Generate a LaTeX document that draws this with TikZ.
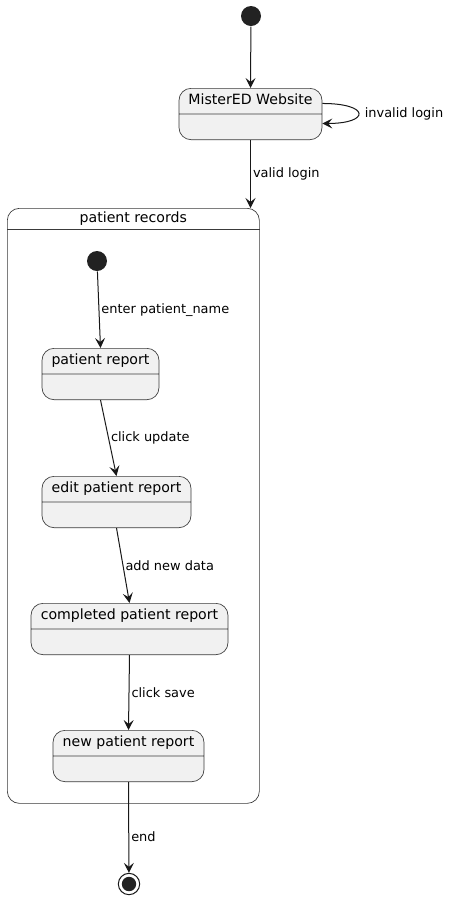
\documentclass[tikz,border=0pt]{standalone}
\usepackage{fontspec}
\setmainfont{DejaVu Sans}
\usetikzlibrary{arrows.meta,shapes.multipart}
\definecolor{statefill}{HTML}{F1F1F1}
\definecolor{stateline}{HTML}{181818}
\definecolor{boxline}{HTML}{3A3A3A}
\definecolor{dotfill}{HTML}{222222}
\newcommand{\statefont}{\fontsize{10.6}{12}\selectfont}
\newcommand{\lblfont}{\fontsize{9.7}{12}\selectfont}

\begin{document}
\begin{tikzpicture}[x=0.75pt,y=-0.75pt,line width=0.75pt,>={Stealth[length=7.5pt,width=7.5pt,inset=3pt]},
  statebox/.style={rectangle split,rectangle split parts=2,draw=boxline,line width=0.5pt,fill=statefill,
    rounded corners=9pt,anchor=north,font=\statefont\strut,inner ysep=3.375pt,inner xsep=4pt,
    rectangle split empty part height=11.25pt,rectangle split empty part depth=0pt},
  startstate/.style={circle,fill=dotfill,minimum size=15pt,inner sep=0pt},
  endstate/.style={circle,draw=stateline,line width=0.75pt,minimum size=16pt,inner sep=0pt,
    path picture={\fill[dotfill] (path picture bounding box.center) circle(5.4pt);}},
  lbl/.style={right,font=\lblfont,inner sep=1.5pt,text=black},
  trans/.style={->,draw=stateline}]
  \useasboundingbox[fill=white] (0,0) rectangle (454,901);
  % estado compuesto
  \node[draw=boxline,line width=0.5pt,fill=white,rounded corners=9pt,anchor=north west,
    minimum width=252*0.75pt,minimum height=595*0.75pt,inner sep=0pt] (rec) at (7,208) {};
  \draw[boxline,line width=0.45pt] ([yshift=-15.75pt]rec.north west) -- ([yshift=-15.75pt]rec.north east);
  \node[font=\statefont] (rectitle) at ([yshift=-7.9pt]rec.north) {patient records};
  % estados
  \node[startstate] (ini) at (251,16) {};
  \node[statebox,minimum width=143*0.75pt] (web) at (250.5,88) {MisterED Website\nodepart{two}};
  \node[startstate] (ini2) at (97,261) {};
  \node[statebox,minimum width=117*0.75pt] (pr) at (100.5,348) {patient report\nodepart{two}};
  \node[statebox,minimum width=149*0.75pt] (epr) at (116.5,476) {edit patient report\nodepart{two}};
  \node[statebox,minimum width=197*0.75pt] (cpr) at (129.5,603) {completed patient report\nodepart{two}};
  \node[statebox,minimum width=151*0.75pt] (npr) at (128.5,730) {new patient report\nodepart{two}};
  \node[endstate] (fin) at (129,884) {};
  % transiciones
  \draw[trans] (ini) -- (web.north);
  \draw[trans] ([yshift=7.9pt]web.east) .. controls +(48,0) and +(48,0) .. ([yshift=-7.1pt]web.east)
    node[lbl,pos=0.5,xshift=3pt]{invalid login};
  \draw[trans] (web.south) -- (web.south |- rec.north) node[lbl,midway]{valid login};
  \draw[trans] (ini2) -- (pr.north) node[lbl,midway]{enter patient\_name};
  \draw[trans] (pr.south) -- (epr.north) node[lbl,midway]{click update};
  \draw[trans] (epr.south) -- (cpr.north) node[lbl,midway]{add new data};
  \draw[trans] (cpr.south) -- (npr.north) node[lbl,midway]{click save};
  \draw[trans] (npr.south) -- (fin) node[lbl,pos=0.6]{end};
\end{tikzpicture}
\end{document}
